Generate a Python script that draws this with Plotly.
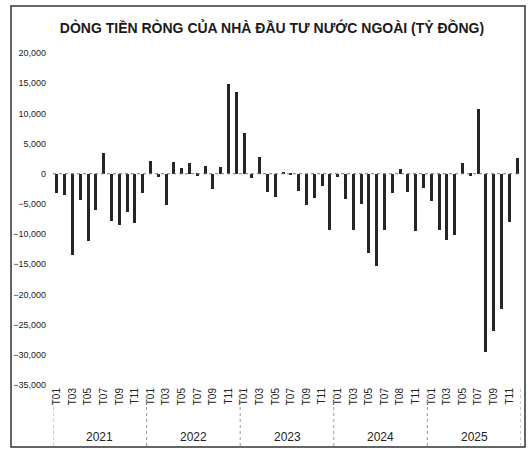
import plotly.graph_objects as go

years = ["2021", "2022", "2023", "2024", "2025"]
months = ["T01", "T02", "T03", "T04", "T05", "T06", "T07", "T08", "T09", "T10", "T11", "T12"]
# odd-month tick labels as printed (2024 shows "T08" in the source)
tick_labels = {
    "2021": ["T01", "T03", "T05", "T07", "T09", "T11"],
    "2022": ["T01", "T03", "T05", "T07", "T09", "T11"],
    "2023": ["T01", "T03", "T05", "T07", "T09", "T11"],
    "2024": ["T01", "T03", "T05", "T07", "T08", "T11"],
    "2025": ["T01", "T03", "T05", "T07", "T09", "T11"],
}

# net foreign flows, billion VND
v2021 = [-3200, -3500, -13500, -4400, -11100, -6000, 3500, -7800, -8500, -6400, -8200, -3200]
v2022 = [2100, -500, -5200, 1900, 1000, 1700, -300, 1300, -2500, 1100, 14900, 13600]
v2023 = [6700, -700, 2700, -3000, -3900, 300, -200, -2900, -5200, -4000, -2100, -9300]
v2024 = [-600, -4200, -9300, -5000, -13100, -15300, -9300, -3200, 800, -3000, -9500, -2400]
v2025 = [-4500, -9400, -11000, -10200, 1700, -300, 10800, -29600, -26000, -22400, -8000, 2600]

values = v2021 + v2022 + v2023 + v2024 + v2025
cats = [f"{y}-{m}" for y in years for m in months]
idx = list(range(len(cats)))

tickvals = []
ticktext = []
for yi, y in enumerate(years):
    for j, lab in enumerate(tick_labels[y]):
        tickvals.append(yi * 12 + j * 2)
        ticktext.append(lab)

fig = go.Figure(
    go.Bar(
        x=idx,
        y=values,
        width=0.38,
        marker=dict(color="#262626", line=dict(width=0)),
        hovertext=cats,
    )
)

W, H = 528, 450
L, R, T, B = 53, 7, 53, 65
pw, ph = W - L - R, H - T - B

shapes = []
# zero line (dotted)
shapes.append(dict(type="line", xref="paper", yref="y", x0=0, x1=1, y0=0, y1=0,
                   line=dict(color="#777777", width=1, dash="dot")))
# year dividers
for k in range(len(years) + 1):
    shapes.append(dict(type="line", xref="x", yref="paper", x0=-0.5 + 12 * k, x1=-0.5 + 12 * k,
                       y0=-4 / ph, y1=-62 / ph,
                       line=dict(color="#999999", width=1, dash="dot")))
# outer frame
shapes.append(dict(type="rect", xref="paper", yref="paper",
                   x0=(11 - L) / pw, x1=(525 - L) / pw,
                   y0=(H - B - 447) / ph, y1=(H - B - 6) / ph,
                   line=dict(color="#333333", width=1.5)))

annotations = []
for yi, y in enumerate(years):
    annotations.append(dict(text=y, xref="x", yref="paper", x=yi * 12 + 5.5, y=0,
                            yshift=-52, showarrow=False, yanchor="middle",
                            font=dict(family="Liberation Sans Narrow, Liberation Sans, Arial", size=12, color="#222222")))

fig.update_layout(
    width=W, height=H,
    margin=dict(l=L, r=R, t=T, b=B, pad=0),
    paper_bgcolor="white", plot_bgcolor="white",
    showlegend=False,
    bargap=0,
    title=dict(text="<b>DÒNG TIỀN RÒNG CỦA NHÀ ĐẦU TƯ NƯỚC NGOÀI (TỶ ĐỒNG)</b>",
               x=(272 - L) / pw, xanchor="center", xref="paper", y=1 - 28 / H, yanchor="middle",
               font=dict(family="Liberation Sans Narrow, Liberation Sans, Arial", size=14, color="#1a1a1a")),
    xaxis=dict(range=[-0.5, 59.5], tickvals=tickvals, ticktext=ticktext, tickangle=-90,
               showgrid=False, zeroline=False, showline=False, ticks="",
               tickfont=dict(family="Liberation Sans, Arial", size=10, color="#222222")),
    yaxis=dict(range=[-35000, 20000], dtick=5000, tickformat=",", showgrid=False,
               zeroline=False, showline=False, ticks="", ticklabelstandoff=6,
               tickfont=dict(family="Liberation Sans Narrow, Liberation Sans, Arial", size=9, color="#222222")),
    shapes=shapes,
    annotations=annotations,
)

fig.write_html("out.html", config={"displayModeBar": False},
               post_script="document.body.style.margin='0';document.body.style.overflow='hidden';")
